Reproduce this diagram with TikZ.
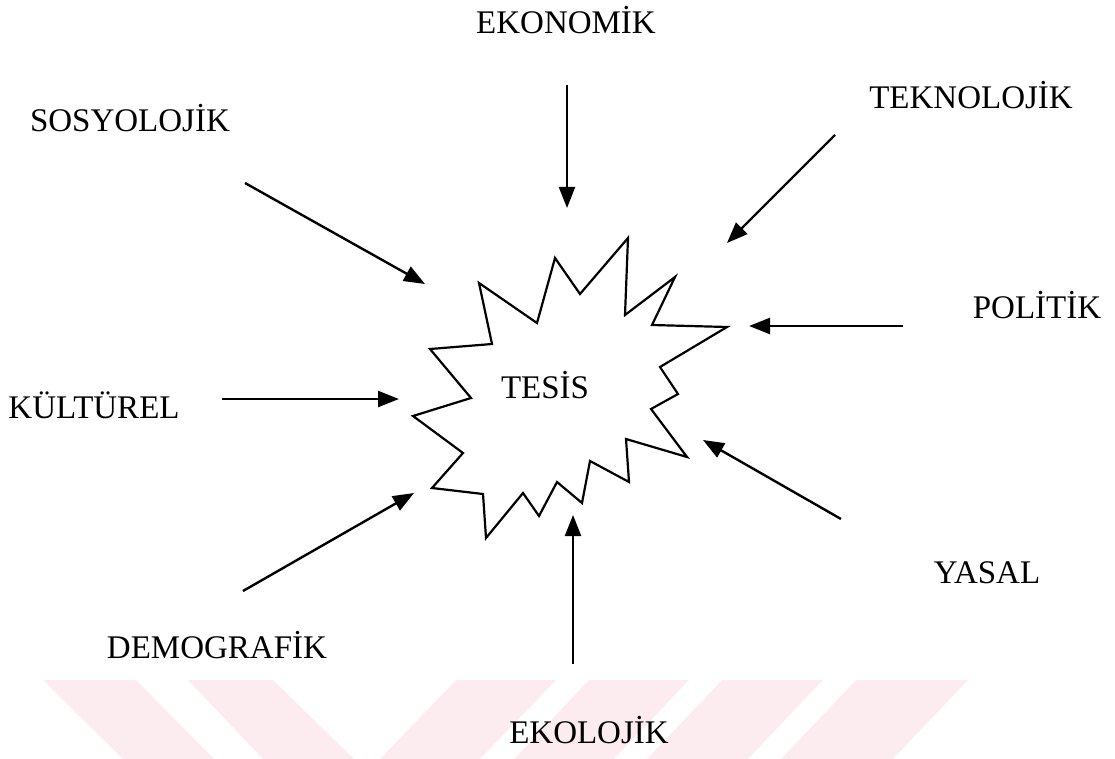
\documentclass[tikz,border=0pt]{standalone}
\usepackage{fontspec}
\setmainfont{Liberation Serif}
\usetikzlibrary{arrows.meta}
\definecolor{wmpink}{RGB}{253,236,239}
\tikzset{
  lbl/.style={inner sep=0pt, font=\fontsize{33}{38}\selectfont},
  flow/.style={line width=2.4pt, -{Triangle[length=21pt,width=16pt]}},
  burst/.style={line width=2.2pt, line join=miter, fill=white},
  wm/.style={fill=wmpink, draw=none}
}
\begin{document}
\begin{tikzpicture}[x=1pt,y=-1pt]
\useasboundingbox (0,0) rectangle (1115,759);
% watermark stripes
\fill[wm] (43,680) -- (136,680) -- (214,759) -- (123,759) -- cycle;
\fill[wm] (188,680) -- (273,680) -- (354,759) -- (263,759) -- cycle;
\fill[wm] (456,680) -- (556,680) -- (480,759) -- (380,759) -- cycle;
\fill[wm] (589,680) -- (689,680) -- (614,759) -- (514,759) -- cycle;
\fill[wm] (722,680) -- (823,680) -- (748,759) -- (647,759) -- cycle;
\fill[wm] (856,680) -- (968,680) -- (893,759) -- (781,759) -- cycle;
% starburst
\draw[burst] (628,238) -- (625,315) -- (675,277) -- (652,325) -- (727,327)
  -- (660,367) -- (678,394) -- (651,409) -- (687,457) -- (626,439)
  -- (629,482) -- (590,461) -- (582,503) -- (557,482) -- (539,516)
  -- (523,493) -- (486,538) -- (483,494) -- (432,488) -- (463,453)
  -- (413,416) -- (471,398) -- (430,349) -- (492,344) -- (479,283)
  -- (537,323) -- (555,258) -- (580,294) -- cycle;
% labels
\node[lbl] (tesis) at (545,385) {TESİS};
\node[lbl] (ekonomik) at (566,20) {EKONOMİK};
\node[lbl] (sosyolojik) at (130,118) {SOSYOLOJİK};
\node[lbl] (teknolojik) at (971,95) {TEKNOLOJİK};
\node[lbl] (politik) at (1037,305) {POLİTİK};
\node[lbl] (kulturel) at (94,405) {KÜLTÜREL};
\node[lbl] (yasal) at (987,573) {YASAL};
\node[lbl] (demografik) at (217,645) {DEMOGRAFİK};
\node[lbl] (ekolojik) at (589,730) {EKOLOJİK};
% arrow ends
\coordinate (ekoS) at (567,85);   \coordinate (ekoE) at (567,208);
\coordinate (sosS) at (245,183);  \coordinate (sosE) at (425,284);
\coordinate (tekS) at (835,135);  \coordinate (tekE) at (727,243);
\coordinate (polS) at (903,326);  \coordinate (polE) at (749,326);
\coordinate (kulS) at (222,399);  \coordinate (kulE) at (399,399);
\coordinate (yasS) at (841,519);  \coordinate (yasE) at (703,440);
\coordinate (demS) at (243,591);  \coordinate (demE) at (414,493);
\coordinate (ekolS) at (573,664); \coordinate (ekolE) at (573,515);
\draw[flow] (ekoS) -- (ekoE);
\draw[flow] (sosS) -- (sosE);
\draw[flow] (tekS) -- (tekE);
\draw[flow] (polS) -- (polE);
\draw[flow] (kulS) -- (kulE);
\draw[flow] (yasS) -- (yasE);
\draw[flow] (demS) -- (demE);
\draw[flow] (ekolS) -- (ekolE);
\end{tikzpicture}
\end{document}
